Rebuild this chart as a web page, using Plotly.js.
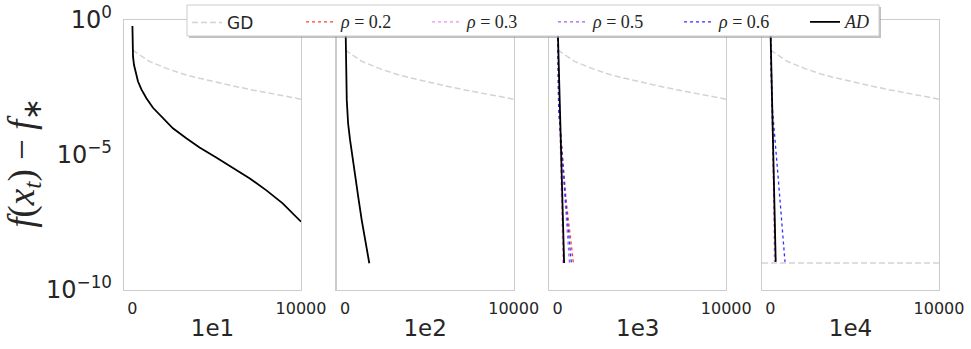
<!DOCTYPE html>
<html>
<head>
<meta charset="utf-8">
<script src="https://cdn.plot.ly/plotly-3.0.1.min.js"></script>
<style>
  html, body { margin: 0; padding: 0; background: white; }
  #plot { width: 971px; height: 349px; }
</style>
</head>
<body>
<div id="plot"></div>
<script>
// Panel titles (x axis labels)
const panelTitles = ['1e1', '1e2', '1e3', '1e4'];

// GD curve (same in every panel)
const gdX = [0, 434, 1024, 2012, 2994, 3982, 4970, 5953, 6941, 7929, 8911, 10000];
const gdY = [0.0776, 0.0501, 0.0288, 0.0162, 0.01, 6.92e-3, 4.90e-3, 3.63e-3, 2.69e-3, 2.04e-3, 1.58e-3, 1.17e-3];
// flat GD line in last panel
const gdFloorX = [-500, 10000];
const gdFloorY = [1e-9, 1e-9];

// AD curves per panel
const ad1X = [0, 18, 35, 95, 195, 331, 533, 828, 1219, 1716, 2402, 3195, 3982, 4970, 5953, 6941, 7929, 8911, 10000];
const ad1Y = [0.603, 0.102, 0.0437, 0.0214, 0.0105, 5.25e-3, 2.69e-3, 1.26e-3, 5.62e-4, 2.63e-4, 9.77e-5,
    4.17e-5, 1.91e-5, 8.13e-6, 3.47e-6, 1.38e-6, 5.01e-7, 1.62e-7, 3.39e-8];
const ad2X = [0, 40, 100, 180, 296, 440, 592, 790, 988, 1210, 1438];
const ad2Y = [0.603, 0.251, 1.10e-3, 1.5e-4, 3.63e-5, 7.6e-6, 1.58e-6, 2.6e-7, 3.89e-8, 6.2e-9, 9.77e-10];
const ad3X = [0, 178, 380];
const ad3Y = [0.603, 2.04e-5, 1e-9];
const ad4X = [0, 150, 314];
const ad4Y = [0.603, 2.5e-5, 1.1e-9];

// rho curves, panel 3 (1e3)
const r02p3X = [0, 60, 500, 930];
const r02p3Y = [0.603, 5.0e-4, 2.14e-7, 1e-9];
const r03p3X = [0, 150, 310];
const r03p3Y = [0.603, 3.16e-5, 1e-9];
const r05p3X = [0, 60, 440, 700];
const r05p3Y = [0.603, 5.0e-4, 2.14e-7, 1e-9];
const r06p3X = [0, 60, 470, 810];
const r06p3Y = [0.603, 5.0e-4, 2.14e-7, 1e-9];

// rho curves, panel 4 (1e4)
const r02p4X = [0, 150, 290];
const r02p4Y = [0.603, 2.5e-5, 1.1e-9];
const r03p4X = [0, 150, 237];
const r03p4Y = [0.603, 2.5e-5, 1.1e-9];
const r05p4X = [0, 150, 300];
const r05p4Y = [0.603, 2.5e-5, 1.1e-9];
const r06p4X = [0, 80, 473, 864];
const r06p4Y = [0.603, 1e-3, 1.17e-6, 1.1e-9];

const serif = 'Liberation Serif';
const rhoNames = ['0.2', '0.3', '0.5', '0.6'].map(v =>
    '<span style="font-family:' + serif + ';font-size:18px"><i>ρ</i> = ' + v + '</span>');
const rhoColors = ['#ff3b3b', '#f08cf0', '#a15cf5', '#2f2fff'];

function line(x, y, axis, color, dash, width, name, showlegend, rank, legendId) {
    return {
        x: x, y: y,
        xaxis: 'x' + axis, yaxis: 'y' + axis,
        type: 'scatter', mode: 'lines',
        name: name, showlegend: showlegend, legendrank: rank, legend: legendId,
        line: { color: color, dash: dash, width: width },
        hoverinfo: 'skip'
    };
}

const gdColor = '#d3d3d3';
const traces = [];
const adXs = [ad1X, ad2X, ad3X, ad4X];
const adYs = [ad1Y, ad2Y, ad3Y, ad4Y];
const rhoX = { 3: [r02p3X, r03p3X, r05p3X, r06p3X], 4: [r02p4X, r03p4X, r05p4X, r06p4X] };
const rhoY = { 3: [r02p3Y, r03p3Y, r05p3Y, r06p3Y], 4: [r02p4Y, r03p4Y, r05p4Y, r06p4Y] };

for (let p = 1; p <= 4; p++) {
    const legend = p === 4;
    const ax = p === 1 ? '' : String(p);
    traces.push(line(gdX, gdY, ax, gdColor, '6px,3px', 1.5, 'GD', legend, 1, 'legend'));
    if (p === 4) {
        traces.push(line(gdFloorX, gdFloorY, ax, gdColor, '6px,3px', 1.5, 'GD', false, 1, 'legend'));
    }
    if (rhoX[p]) {
        for (let i = 0; i < 4; i++) {
            traces.push(line(rhoX[p][i], rhoY[p][i], ax, rhoColors[i], 'dot', 1.3, rhoNames[i], legend, 2 + i, 'legend2'));
        }
    }
    traces.push(line(adXs[p - 1], adYs[p - 1], ax, 'black', 'solid', 1.8,
        '<span style="font-family:' + serif + ';font-size:18px"><i>AD</i></span>', legend, 10, 'legend2'));
}

// Layout: 4 panels side by side
const domains = [[0, 0.2172], [0.2609, 0.4781], [0.5218, 0.739], [0.7828, 1.0]];
const frame = '#cccccc';
const legendBase = {
    orientation: 'h', y: 1.0556, xanchor: 'left', yanchor: 'top',
    bgcolor: 'rgba(0,0,0,0)', borderwidth: 0,
    font: { size: 16, family: 'DejaVu Sans', color: '#262626' },
    traceorder: 'normal'
};
const layout = {
    width: 971, height: 349,
    margin: { l: 124, r: 32, t: 20, b: 59, autoexpand: false },
    paper_bgcolor: 'white', plot_bgcolor: 'white',
    font: { family: 'DejaVu Sans', color: '#262626' },
    showlegend: true,
    legend: Object.assign({}, legendBase, { x: 0.0773, font: { size: 17, family: 'DejaVu Sans', color: '#262626' } }),
    legend2: Object.assign({}, legendBase, { x: 0.2172, entrywidth: 81, entrywidthmode: 'pixels' }),
    // legend frame with its shadow
    shapes: [{
        type: 'rect', xref: 'paper', yref: 'paper',
        x0: 0.0798, x1: 0.9288, y0: 0.9333, y1: 1.0481,
        fillcolor: 'rgba(150,150,150,0.6)', line: { width: 0 }, layer: 'above'
    }, {
        type: 'rect', xref: 'paper', yref: 'paper',
        x0: 0.0773, x1: 0.9264, y0: 0.9407, y1: 1.0556,
        fillcolor: 'white', line: { color: frame, width: 1 }, layer: 'above'
    }],
    annotations: [{
        xref: 'paper', yref: 'paper', x: -0.123, y: 0.47,
        xanchor: 'center', yanchor: 'middle', textangle: -90, showarrow: false,
        text: '<i>f</i>(<i>x<sub>t</sub></i>) − <i>f</i><sub>∗</sub>',
        font: { family: serif, size: 37, color: '#262626' }
    }]
};

for (let p = 1; p <= 4; p++) {
    const ax = p === 1 ? '' : String(p);
    layout['xaxis' + ax] = {
        domain: domains[p - 1], anchor: 'y' + ax,
        range: [-500, 10000], tickvals: [0, 10000], ticktext: ['0', '10000'],
        showgrid: false, zeroline: false, showline: true, mirror: true,
        linecolor: frame, linewidth: 1.2, ticks: '',
        tickfont: { size: 16 }, ticklabelstandoff: 4,
        title: { text: panelTitles[p - 1], font: { size: 23 }, standoff: 2 }
    };
    layout['yaxis' + ax] = {
        type: 'log', range: [-10, 0], anchor: 'x' + ax,
        tickvals: [1, 1e-5, 1e-10],
        ticktext: ['10<sup>0</sup>', '10<sup>−5</sup>', '10<sup>−10</sup>'],
        showticklabels: p === 1,
        showgrid: false, zeroline: false, showline: true, mirror: true,
        linecolor: frame, linewidth: 1.2, ticks: '',
        tickfont: { size: 24 }, ticklabelstandoff: 6
    };
}

Plotly.newPlot('plot', traces, layout, { displayModeBar: false, staticPlot: true });
</script>
</body>
</html>
